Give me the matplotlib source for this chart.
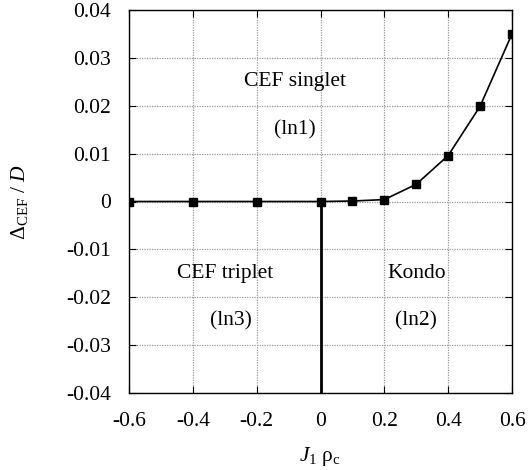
import matplotlib
matplotlib.use("Agg")
import matplotlib.pyplot as plt

plt.rcParams['font.family'] = ['Liberation Serif', 'DejaVu Serif']
plt.rcParams['mathtext.fontset'] = 'custom'
plt.rcParams['mathtext.rm'] = 'Liberation Serif'
plt.rcParams['mathtext.it'] = 'Liberation Serif:italic'

# data
j_rho = [-0.6, -0.4, -0.2, 0.0, 0.1, 0.2, 0.3, 0.4, 0.5, 0.6]
delta = [0.0, 0.0, 0.0, 0.0, 0.0001, 0.0004, 0.0036, 0.0096, 0.0199, 0.035]
xticks = [-0.6, -0.4, -0.2, 0, 0.2, 0.4, 0.6]
xlabels = ['-0.6', '-0.4', '-0.2', '0', '0.2', '0.4', '0.6']
yticks = [-0.04, -0.03, -0.02, -0.01, 0, 0.01, 0.02, 0.03, 0.04]
ylabels = ['-0.04', '-0.03', '-0.02', '-0.01', '0', '0.01', '0.02', '0.03', '0.04']
regions = [
    ('CEF singlet', -0.08, 0.025),
    ('(ln1)', -0.08, 0.015),
    ('CEF triplet', -0.3, -0.015),
    ('(ln3)', -0.28, -0.025),
    ('Kondo', 0.3, -0.015),
    ('(ln2)', 0.3, -0.025),
]

fig = plt.figure(figsize=(5.29, 4.70), dpi=100)
ax = fig.add_axes([129 / 529, 1 - 393 / 470, (512 - 129) / 529, (393 - 10) / 470])

ax.plot(j_rho, delta, color='black', lw=1.2, marker='s', ms=5.5, zorder=3)
ax.plot([0, 0], [-0.04, 0], color='black', lw=2, zorder=3)

for txt, x, y in regions:
    ax.text(x, y, txt, ha='center', va='center', fontsize=15.5)

ax.set_xlim(-0.6, 0.6)
ax.set_ylim(-0.04, 0.04)
ax.set_xticks(xticks)
ax.set_xticklabels(xlabels)
ax.set_yticks(yticks)
ax.set_yticklabels(ylabels)
ax.tick_params(direction='in', top=True, right=True, length=5, labelsize=15.5)
ax.tick_params(axis='x', pad=14)
ax.tick_params(axis='y', pad=13)
ax.grid(True, color='#999999', linestyle=(0, (1, 1)), lw=0.9)
for s in ax.spines.values():
    s.set_linewidth(1.0)

ax.set_xlabel(r'$J_1$ ρ$_{\rm c}$', fontsize=15.5, labelpad=10)
ax.set_ylabel(r'Δ$_{\rm CEF}$ / $D$', fontsize=15.5, labelpad=26)

fig.savefig('out.png', dpi=100)
